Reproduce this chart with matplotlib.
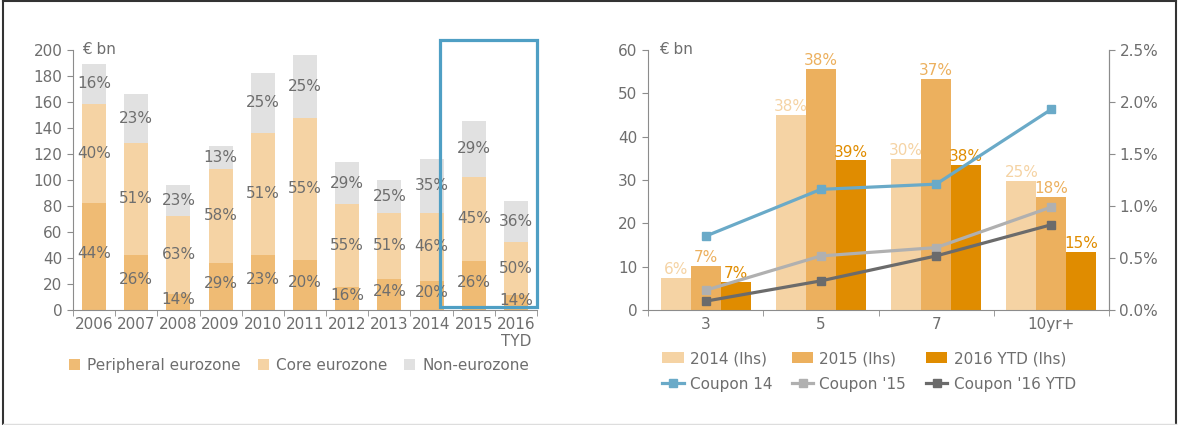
import matplotlib
matplotlib.use("Agg")
import matplotlib.pyplot as plt
from matplotlib.patches import Rectangle
from matplotlib.lines import Line2D
import numpy as np

plt.rcParams['font.family'] = ['DejaVu Sans']

# left chart: issuance by region (EUR bn) and share labels
years = ["2006", "2007", "2008", "2009", "2010", "2011", "2012", "2013", "2014", "2015", "2016\nTYD"]
peripheral = [82.5, 42.5, 12.3, 36.4, 42.5, 38.7, 17.9, 24.1, 22.6, 37.9, 11.3]
core = [76.2, 86.2, 60.2, 72.3, 93.7, 109.0, 63.6, 50.8, 52.3, 64.7, 41.3]
non_euro = [30.3, 37.7, 23.9, 17.7, 46.3, 48.7, 32.3, 25.1, 41.5, 42.8, 31.2]
pct_peripheral = [44, 26, 14, 29, 23, 20, 16, 24, 20, 26, 14]
pct_core = [40, 51, 63, 58, 51, 55, 55, 51, 46, 45, 50]
pct_non = [16, 23, 23, 13, 25, 25, 29, 25, 35, 29, 36]

# right chart: by maturity bucket
buckets = ["3", "5", "7", "10yr+"]
vol_2014 = [7.3, 45.1, 34.8, 29.7]
vol_2015 = [10.1, 55.6, 53.4, 26.1]
vol_2016 = [6.5, 34.5, 33.4, 13.4]
pct_2014 = [6, 38, 30, 25]
pct_2015 = [7, 38, 37, 18]
pct_2016 = [7, 39, 38, 15]
coupon_14 = [0.71, 1.16, 1.21, 1.93]
coupon_15 = [0.19, 0.52, 0.60, 0.99]
coupon_16 = [0.085, 0.28, 0.52, 0.82]

GREY_TXT = "#6e6e6e"
AX_COL = "#8c8c8c"
C_PERI = "#efbb74"
C_CORE = "#f5d3a4"
C_NON = "#e1e1e1"
C14 = "#f5d3a4"
C15 = "#ecb05e"
C16 = "#e08c00"
L14 = "#6aaac8"
L15 = "#b0b0b0"
L16 = "#6b6b6b"
FS = 11

fig = plt.figure(figsize=(11.79, 4.25), dpi=100)


def style_axis(ax):
    for s in ["top", "right"]:
        ax.spines[s].set_visible(False)
    for s in ["left", "bottom", "right"]:
        ax.spines[s].set_color(AX_COL)
    ax.tick_params(colors=AX_COL, labelcolor=GREY_TXT, labelsize=FS, direction="out", length=4)


# ---- left chart
ax1 = fig.add_axes([73 / 1179, 1 - 310 / 425, 464 / 1179, 260 / 425])
style_axis(ax1)
x = np.arange(len(years))
w = 0.57
ax1.bar(x, peripheral, w, color=C_PERI, label="Peripheral eurozone")
ax1.bar(x, core, w, bottom=peripheral, color=C_CORE, label="Core eurozone")
b2 = np.array(peripheral) + np.array(core)
ax1.bar(x, non_euro, w, bottom=b2, color=C_NON, label="Non-eurozone")

for i in range(len(years)):
    ax1.text(x[i], peripheral[i] / 2 + 2, f"{pct_peripheral[i]}%", ha="center", va="center", color=GREY_TXT, fontsize=FS)
    ax1.text(x[i], peripheral[i] + core[i] / 2, f"{pct_core[i]}%", ha="center", va="center", color=GREY_TXT, fontsize=FS)
    ax1.text(x[i], b2[i] + non_euro[i] / 2, f"{pct_non[i]}%", ha="center", va="center", color=GREY_TXT, fontsize=FS)

ax1.set_xlim(-0.5, len(years) - 0.5)
ax1.set_ylim(0, 200)
ax1.set_yticks(range(0, 201, 20))
ax1.set_xticks(x)
ax1.set_xticklabels(years, linespacing=1.2)
ax1.set_xticks(np.arange(-0.5, len(years), 1), minor=True)
ax1.tick_params(axis="x", which="major", length=0, pad=5)
ax1.tick_params(axis="x", which="minor", length=4, color=AX_COL)
ax1.text(0.02, 1.0, "€ bn", transform=ax1.transAxes, ha="left", va="center", color=GREY_TXT, fontsize=FS)

box = Rectangle((8.2, 2.3), 10.5 - 8.2, 205.4, fill=False, ec="#4f9fc4", lw=2.3,
                transform=ax1.transData, clip_on=False, zorder=5)
ax1.add_patch(box)

ax1.legend(loc="upper left", bbox_to_anchor=(63 / 1179, 1 - 352 / 425), bbox_transform=fig.transFigure,
           ncol=3, frameon=False, fontsize=FS, labelcolor=GREY_TXT, handlelength=0.7, handleheight=0.7,
           handletextpad=0.5, columnspacing=1.1, borderaxespad=0)

# ---- right chart
ax2 = fig.add_axes([648 / 1179, 1 - 310 / 425, 461 / 1179, 260 / 425])
style_axis(ax2)
ax2.spines["right"].set_visible(True)
xb = np.arange(len(buckets))
bw = 0.26
r14 = ax2.bar(xb - bw, vol_2014, bw, color=C14, label="2014 (lhs)")
r15 = ax2.bar(xb, vol_2015, bw, color=C15, label="2015 (lhs)")
r16 = ax2.bar(xb + bw, vol_2016, bw, color=C16, label="2016 YTD (lhs)")
for off, vals, pcts, col in [(-bw, vol_2014, pct_2014, C14), (0, vol_2015, pct_2015, C15), (bw, vol_2016, pct_2016, C16)]:
    for i in range(len(buckets)):
        ax2.text(xb[i] + off, vals[i] + 0.2, f"{pcts[i]}%", ha="center", va="bottom", color=col, fontsize=FS)

ax2.set_xlim(-0.5, len(buckets) - 0.5)
ax2.set_ylim(0, 60)
ax2.set_yticks(range(0, 61, 10))
ax2.set_xticks(xb)
ax2.set_xticklabels(buckets)
ax2.set_xticks(np.arange(-0.5, len(buckets), 1), minor=True)
ax2.tick_params(axis="x", which="major", length=0, pad=5)
ax2.tick_params(axis="x", which="minor", length=4, color=AX_COL)
ax2.text(0.025, 1.0, "€ bn", transform=ax2.transAxes, ha="left", va="center", color=GREY_TXT, fontsize=FS)

ax3 = ax2.twinx()
for s in ["top", "left", "bottom"]:
    ax3.spines[s].set_visible(False)
ax3.spines["right"].set_color(AX_COL)
ax3.tick_params(colors=AX_COL, labelcolor=GREY_TXT, labelsize=FS, direction="out", length=4)
ax3.plot(xb, coupon_14, color=L14, lw=2.3, marker="s", ms=6, label="Coupon 14")
ax3.plot(xb, coupon_15, color=L15, lw=2.3, marker="s", ms=6, label="Coupon '15")
ax3.plot(xb, coupon_16, color=L16, lw=2.3, marker="s", ms=6, label="Coupon '16 YTD")
ax3.set_ylim(0, 2.5)
ax3.set_yticks(np.arange(0, 2.51, 0.5))
ax3.set_yticklabels([f"{v:.1f}%" for v in np.arange(0, 2.51, 0.5)])

h = [r14, Line2D([], [], color=L14, lw=2.3, marker="s", ms=6),
     r15, Line2D([], [], color=L15, lw=2.3, marker="s", ms=6),
     r16, Line2D([], [], color=L16, lw=2.3, marker="s", ms=6)]
lab = ["2014 (lhs)", "Coupon 14", "2015 (lhs)", "Coupon '15", "2016 YTD (lhs)", "Coupon '16 YTD"]
ax2.legend(h, lab, loc="upper left", bbox_to_anchor=(656 / 1179, 1 - 345 / 425), bbox_transform=fig.transFigure,
           ncol=3, frameon=False, fontsize=FS, labelcolor=GREY_TXT, handlelength=1.4, handleheight=0.7,
           handletextpad=0.4, columnspacing=1.3, borderaxespad=0, labelspacing=0.7)

# outer frame
fig.add_artist(Line2D([3 / 1179, 3 / 1179], [1 - 424 / 425, 1 - 1 / 425], color="#333333", lw=1.5, transform=fig.transFigure))
fig.add_artist(Line2D([1176 / 1179, 1176 / 1179], [1 - 424 / 425, 1 - 1 / 425], color="#333333", lw=1.5, transform=fig.transFigure))
fig.add_artist(Line2D([3 / 1179, 1176 / 1179], [1 - 1 / 425, 1 - 1 / 425], color="#333333", lw=1.5, transform=fig.transFigure))
fig.add_artist(Line2D([3 / 1179, 1176 / 1179], [1 - 423.5 / 425, 1 - 423.5 / 425], color="#dddddd", lw=1, transform=fig.transFigure))

fig.savefig("out.png", dpi=100)
